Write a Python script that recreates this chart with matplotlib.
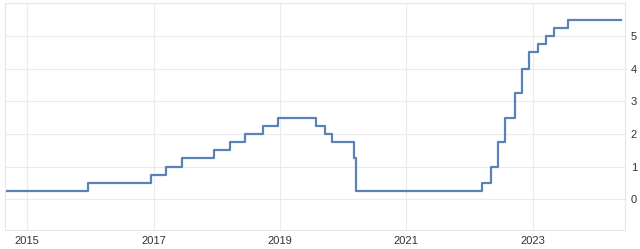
import matplotlib
matplotlib.use("Agg")
import matplotlib.pyplot as plt
import matplotlib.dates as mdates
from datetime import datetime

# ==============================
# Datos (fechas de cambio y nivel de tasa)
# ==============================

dates = [
    "2014-08-28", "2015-12-16", "2016-12-14", "2017-03-15", "2017-06-14",
    "2017-12-13", "2018-03-21", "2018-06-13", "2018-09-26", "2018-12-19",
    "2019-07-31", "2019-09-18", "2019-10-30", "2020-03-03", "2020-03-15",
    "2022-03-16", "2022-05-04", "2022-06-15", "2022-07-27", "2022-09-21",
    "2022-11-02", "2022-12-14", "2023-02-01", "2023-03-22", "2023-05-03",
    "2023-07-26", "2024-05-28",
]
rates = [
    0.25, 0.50, 0.75, 1.00, 1.25,
    1.50, 1.75, 2.00, 2.25, 2.50,
    2.25, 2.00, 1.75, 1.25, 0.25,
    0.50, 1.00, 1.75, 2.50, 3.25,
    4.00, 4.50, 4.75, 5.00, 5.25,
    5.50, 5.50,
]
year_ticks = [2015, 2017, 2019, 2021, 2023]
y_ticks = [0, 1, 2, 3, 4, 5]

x = [datetime.strptime(d, "%Y-%m-%d") for d in dates]

# ==============================
# Gráfica
# ==============================

plt.rcParams["font.family"] = ["Liberation Sans", "DejaVu Sans"]

fig = plt.figure(figsize=(6.4, 2.49), dpi=100)
ax = fig.add_axes([0.008, 0.076, 0.969, 0.91])

ax.plot(x, rates, drawstyle="steps-post", color="#5a82b8", linewidth=1.6)

ax.set_xlim(datetime(2014, 8, 26), datetime(2024, 6, 20))
ax.set_ylim(-0.95, 6.0)

ax.set_xticks([datetime(y, 1, 1) for y in year_ticks])
ax.xaxis.set_major_formatter(mdates.DateFormatter("%Y"))
ax.set_yticks(y_ticks + [6])
ax.set_yticklabels([str(v) for v in y_ticks] + [""])

ax.yaxis.tick_right()
ax.tick_params(axis="both", length=0, labelsize=8, colors="#333333")
ax.tick_params(axis="x", pad=4)
ax.tick_params(axis="y", pad=4)

ax.grid(True, color="#ebebeb", linewidth=0.8)
ax.set_axisbelow(True)
for s in ax.spines.values():
    s.set_color("#e6e6e6")
    s.set_linewidth(0.8)

fig.savefig("out.png", dpi=100)
plt.close()
